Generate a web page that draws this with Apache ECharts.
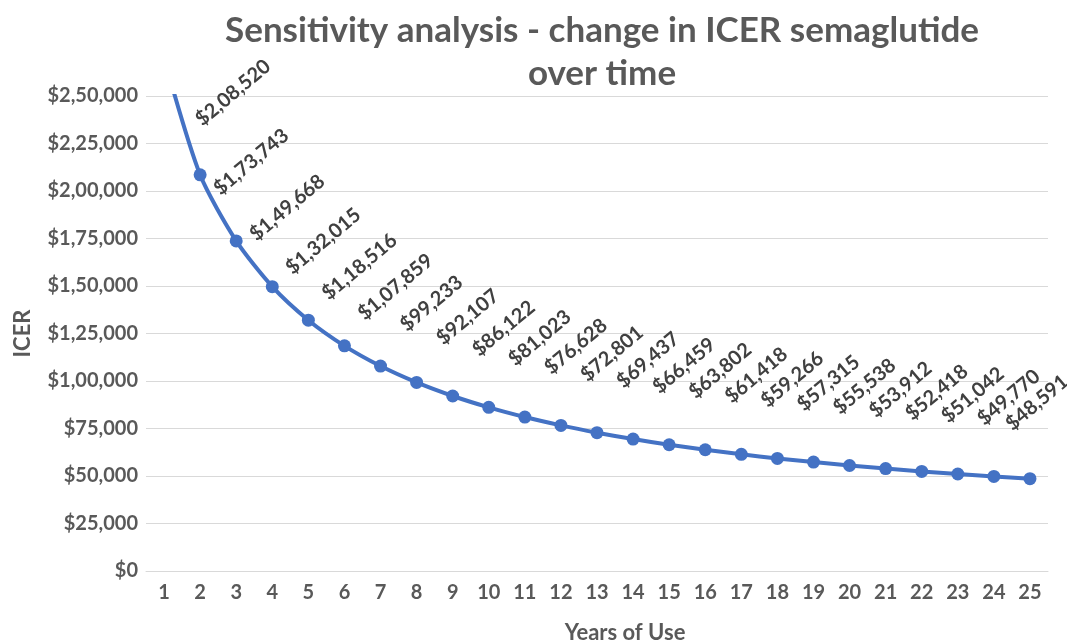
<!DOCTYPE html>
<html><head><meta charset="utf-8">
<script src="https://cdn.jsdelivr.net/npm/echarts@6/dist/echarts.min.js"></script>
<style>html,body{margin:0;padding:0;background:#fff}#c{width:1067px;height:642px}</style>
</head><body><div id="c"></div>
<script>
const titleText = 'Sensitivity analysis - change in ICER semaglutide\nover time';
const years = ['1','2','3','4','5','6','7','8','9','10','11','12','13','14','15','16','17','18','19','20','21','22','23','24','25'];
const icer = [270000, 208520, 173743, 149668, 132015, 118516, 107859, 99233, 92107, 86122, 81023, 76628, 72801, 69437, 66459, 63802, 61418, 59266, 57315, 55538, 53912, 52418, 51042, 49770, 48591];
const yMin = 0, yMax = 250000, yStep = 25000;

function inr(v) {
  const s = String(Math.round(v));
  if (s.length <= 3) return s;
  const last3 = s.slice(-3);
  let rest = s.slice(0, -3);
  const parts = [];
  while (rest.length > 2) { parts.unshift(rest.slice(-2)); rest = rest.slice(0, -2); }
  if (rest.length) parts.unshift(rest);
  return parts.join(',') + ',' + last3;
}

const FONT = 'Lato';
const SYM = 13;
function labelPos(dx, dy) { return [SYM / 2 + dx, SYM / 2 + dy]; }

const seriesData = icer.map((v, i) => {
  const item = { value: v };
  if (v > yMax) item.label = { show: false };
  else if (i === 1) item.label = { position: labelPos(33, -82) };
  else if (i === icer.length - 1) item.label = { position: labelPos(7, -76) };
  return item;
});

const chart = echarts.init(document.getElementById('c'), null, { renderer: 'canvas' });
chart.setOption({
  animation: false,
  backgroundColor: '#ffffff',
  title: {
    text: titleText,
    left: 597, top: 4, textAlign: 'center',
    textStyle: { fontFamily: FONT, fontWeight: 'bold', fontSize: 35, color: '#595959', lineHeight: 43 }
  },
  grid: { left: 146, right: 19, top: 96, bottom: 71, containLabel: false, outerBoundsMode: 'none' },
  xAxis: {
    type: 'category', data: years, boundaryGap: true,
    name: 'Years of Use', nameLocation: 'middle', nameGap: 51,
    nameTextStyle: { fontFamily: FONT, fontWeight: 'bold', fontSize: 22, color: '#595959', padding: [0, 0, 0, 56] },
    axisLine: { lineStyle: { color: '#d9d9d9', width: 1 } },
    axisTick: { show: false },
    axisLabel: { fontFamily: FONT, fontWeight: 'bold', fontSize: 20, color: '#595959', margin: 12 }
  },
  yAxis: {
    type: 'value', min: yMin, max: yMax, interval: yStep,
    name: 'ICER', nameLocation: 'middle', nameGap: 112, nameRotate: 90,
    nameTextStyle: { fontFamily: FONT, fontWeight: 'bold', fontSize: 22, color: '#595959' },
    axisLine: { show: false }, axisTick: { show: false },
    splitLine: { lineStyle: { color: '#d9d9d9', width: 1 } },
    axisLabel: { fontFamily: FONT, fontWeight: 'bold', fontSize: 20, color: '#595959', margin: 8,
      formatter: v => '$' + inr(v) }
  },
  series: [{
    type: 'line', data: seriesData, smooth: 0.25, clip: true,
    symbol: 'circle', symbolSize: SYM,
    lineStyle: { color: '#4472C4', width: 4 },
    itemStyle: { color: '#4472C4' },
    label: {
      show: true, position: labelPos(15, -79), rotate: 40,
      align: 'center', verticalAlign: 'middle',
      fontFamily: FONT, fontWeight: 'bold', fontSize: 20, color: '#404040',
      formatter: p => '$' + inr(p.value)
    }
  }]
});
</script></body></html>
